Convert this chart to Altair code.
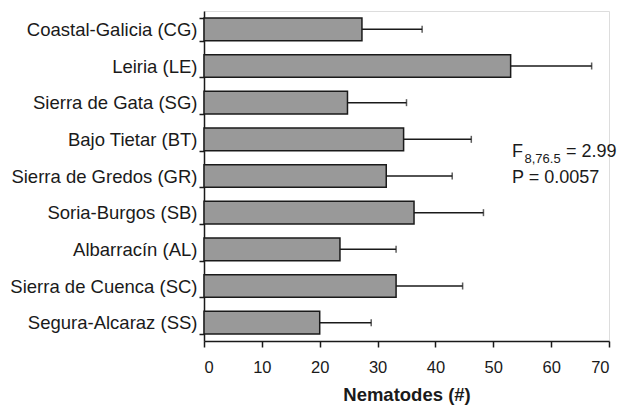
import altair as alt
import pandas as pd

sites = ["Coastal-Galicia (CG)", "Leiria (LE)", "Sierra de Gata (SG)", "Bajo Tietar (BT)",
         "Sierra de Gredos (GR)", "Soria-Burgos (SB)", "Albarracín (AL)",
         "Sierra de Cuenca (SC)", "Segura-Alcaraz (SS)"]
means = [27.3, 53.0, 24.8, 34.5, 31.5, 36.3, 23.5, 33.2, 20.0]
upper = [37.7, 67.0, 35.0, 46.2, 42.9, 48.3, 33.2, 44.7, 28.9]

df = pd.DataFrame({"site": sites, "mean": means, "upper": upper})

FONT = "Liberation Sans"
yenc = alt.Y("site:N", sort=sites,
             scale=alt.Scale(paddingInner=0.38, paddingOuter=0.19),
             axis=alt.Axis(title=None, tickBand="extent", labelFontSize=18.5, labelFont=FONT,
                           labelColor="#1a1a1a", tickSize=5, labelPadding=2, labelLimit=0,
                           domainColor="#1a1a1a", tickColor="#1a1a1a",
                           domainWidth=1.5, tickWidth=1.5))
xenc = alt.X("mean:Q", scale=alt.Scale(domain=[0, 70], nice=False),
             axis=alt.Axis(title="Nematodes (#)", values=[0, 10, 20, 30, 40, 50, 60, 70],
                           labelFontSize=16.5, labelFont=FONT, labelColor="#1a1a1a",
                           titleFont=FONT, titleFontSize=18.5, titleFontWeight="bold",
                           titleColor="#1a1a1a", tickSize=6, labelPadding=12, titlePadding=10,
                           domainColor="#1a1a1a", tickColor="#1a1a1a",
                           domainWidth=1.5, tickWidth=1.5, grid=False))

bars = alt.Chart(df).mark_bar(fill="#999999", stroke="#1a1a1a", strokeWidth=1.5).encode(
    x=xenc, y=yenc)
err = alt.Chart(df).mark_rule(color="#1a1a1a", strokeWidth=1.5).encode(
    x="mean:Q", x2="upper:Q", y=alt.Y("site:N", sort=sites))
caps = alt.Chart(df).mark_tick(color="#1a1a1a", thickness=1.5, size=7, orient="vertical").encode(
    x="upper:Q", y=alt.Y("site:N", sort=sites))

ann_df = pd.DataFrame({"a": [0]})
f_txt = alt.Chart(ann_df).mark_text(text="F", font=FONT, fontSize=18, align="left",
                                    baseline="alphabetic", color="#1a1a1a").encode(
    x=alt.value(308), y=alt.value(146))
sub_txt = alt.Chart(ann_df).mark_text(text="8,76.5", font=FONT, fontSize=13, align="left",
                                      baseline="alphabetic", color="#1a1a1a").encode(
    x=alt.value(320.5), y=alt.value(152))
eq_txt = alt.Chart(ann_df).mark_text(text="= 2.99", font=FONT, fontSize=18, align="left",
                                     baseline="alphabetic", color="#1a1a1a").encode(
    x=alt.value(362), y=alt.value(146))
p_txt = alt.Chart(ann_df).mark_text(text="P = 0.0057", font=FONT, fontSize=18, align="left",
                                    baseline="alphabetic", color="#1a1a1a").encode(
    x=alt.value(308), y=alt.value(172))

chart = alt.layer(bars, err, caps, f_txt, sub_txt, eq_txt, p_txt).properties(
    width=405, height=330,
    autosize=alt.AutoSizeParams(type="none"),
    padding={"left": 196, "top": 3, "right": 13, "bottom": 67},
).configure_view(stroke=None).configure(background="white")

chart.save("out.html", embed_options={"renderer": "svg", "actions": False})
